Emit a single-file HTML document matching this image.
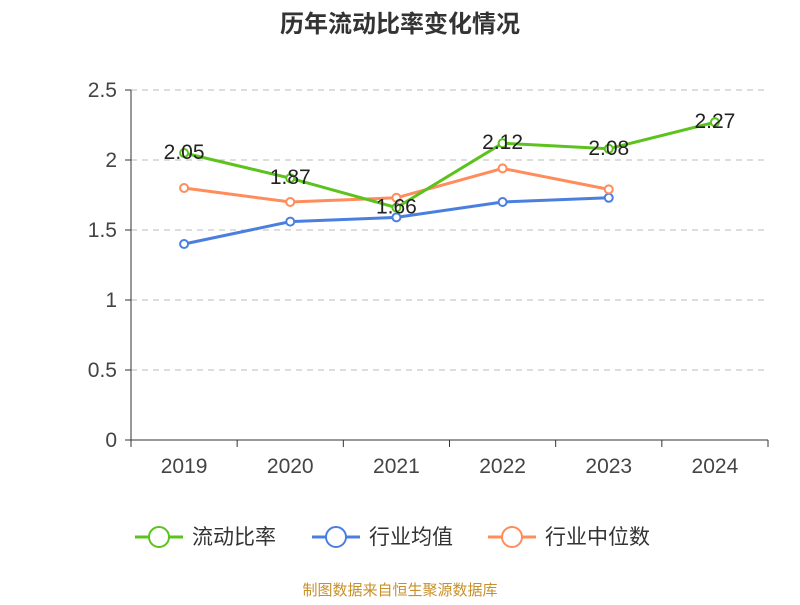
<!DOCTYPE html>
<html><head><meta charset="utf-8"><style>
body{margin:0;background:#fff;}
svg text{font-family:"Liberation Sans","Noto Sans CJK SC",sans-serif;}
</style></head><body>
<svg id="c" width="800" height="600" xmlns="http://www.w3.org/2000/svg">
<text x="400" y="32" text-anchor="middle" font-size="24" font-weight="bold" fill="#333">历年流动比率变化情况</text>
<g id="grid"></g><g id="axes"></g><g id="series"></g>
<g id="legend"></g>
<text x="400" y="595" text-anchor="middle" font-size="15" fill="#c8902a">制图数据来自恒生聚源数据库</text>
</svg>
<script>
const categories=["2019","2020","2021","2022","2023","2024"];
const yTicks=[0,0.5,1,1.5,2,2.5];
const yTickLabels=["0","0.5","1","1.5","2","2.5"];
const currentRatio=[2.05,1.87,1.66,2.12,2.08,2.27];
const industryAvg=[1.40,1.56,1.59,1.70,1.73];
const industryMedian=[1.80,1.70,1.73,1.94,1.79];
const NS="http://www.w3.org/2000/svg";
const L=131,R=768,T=90,B=440,ymax=2.5;
const bw=(R-L)/categories.length;
const x=i=>L+bw*(i+0.5);
const y=v=>B-(v/ymax)*(B-T);
function mk(tag,attrs,parent,text){const e=document.createElementNS(NS,tag);for(const k in attrs)e.setAttribute(k,attrs[k]);if(text!==undefined)e.textContent=text;document.getElementById(parent).appendChild(e);return e;}
yTicks.forEach((t,i)=>{
 if(t>0){const g=mk("line",{x1:L,x2:R,y1:y(t),y2:y(t),stroke:"#bbb","stroke-dasharray":"6,5"},"grid");
 
 }
 const tk=mk("line",{x1:L-6,x2:L,y1:y(t),y2:y(t),stroke:"#333"},"axes");
 
 
 const lb=mk("text",{x:L-14,y:y(t)+7,"text-anchor":"end","font-size":"21",fill:"#444"},"axes",yTickLabels[i]);
 
 
});
const ya=mk("line",{x1:L,x2:L,y1:T,y2:B,stroke:"#333"},"axes");


const xa=mk("line",{x1:L,x2:R,y1:B,y2:B,stroke:"#333"},"axes");


for(let i=0;i<=categories.length;i++){const t=mk("line",{x1:L+bw*i,x2:L+bw*i,y1:B,y2:B+7,stroke:"#333"},"axes");
 
 }
categories.forEach((c,i)=>{const t=mk("text",{x:x(i),y:B+33,"text-anchor":"middle","font-size":"21",fill:"#444"},"axes",c);
 
 });
function series(vals,color,name,labels){
 const p=mk("polyline",{points:vals.map((v,i)=>x(i)+","+y(v)).join(" "),fill:"none",stroke:color,"stroke-width":"3"},"series");
 
 
 vals.forEach((v,i)=>{const c=mk("circle",{cx:x(i),cy:y(v),r:4,fill:"#fff",stroke:color,"stroke-width":"2"},"series");
  
  
  if(labels){const t=mk("text",{x:x(i),y:y(v)+6,"text-anchor":"middle","font-size":"21",fill:"#222"},"series",v.toFixed(2));
   
   }
 });
}
series(industryAvg,"#4a7fe0","industry-average",false);
series(industryMedian,"#ff8c5a","industry-median",false);
series(currentRatio,"#5cc21d","current-ratio",true);
const leg=[["流动比率","#5cc21d",135],["行业均值","#4a7fe0",312],["行业中位数","#ff8c5a",488]];
leg.forEach(l=>{
 const g=mk("g",{},"legend");
 
 
 const ln=document.createElementNS(NS,"line");ln.setAttribute("x1",l[2]);ln.setAttribute("x2",l[2]+48);ln.setAttribute("y1",537);ln.setAttribute("y2",537);ln.setAttribute("stroke",l[1]);ln.setAttribute("stroke-width","3");g.appendChild(ln);
 const c=document.createElementNS(NS,"circle");c.setAttribute("cx",l[2]+24);c.setAttribute("cy",537);c.setAttribute("r",10);c.setAttribute("fill","#fff");c.setAttribute("stroke",l[1]);c.setAttribute("stroke-width","2");g.appendChild(c);
 const t=document.createElementNS(NS,"text");t.setAttribute("x",l[2]+57);t.setAttribute("y",544);t.setAttribute("font-size","21");t.setAttribute("fill","#333");t.textContent=l[0];g.appendChild(t);
});
</script>
</body></html>
